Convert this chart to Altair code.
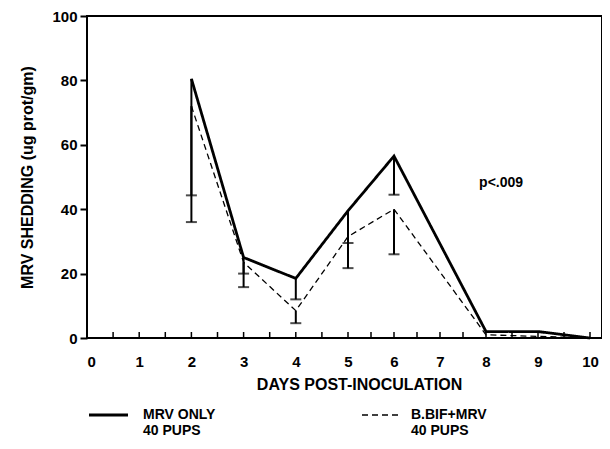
import altair as alt
import pandas as pd

# ---- data ----
days = [2, 3, 4, 5, 6, 8, 9, 10]
mrv_only = [80.5, 25, 18.5, 39.5, 56.5, 2, 2, 0]
bbif_mrv = [72, 23.5, 8.5, 31.5, 40, 1, 0.5, 0]

err_days = [2, 3, 4, 5, 6]
mrv_only_low = [44.3, 20, 12, 29.5, 44.5]
bbif_mrv_low = [36, 15.8, 4.6, 21.7, 26]

series_names = ["MRV ONLY", "B.BIF+MRV"]
legend_sub = ["40 PUPS", "40 PUPS"]

x_tick_marks = [0.5 * i for i in range(1, 21)]
x_labels = list(range(0, 11))
y_ticks = [0, 20, 40, 60, 80, 100]

p_text = "p<.009"
p_pos = [7.85, 48]
x_title = "DAYS POST-INOCULATION"
y_title = "MRV SHEDDING (ug prot/gm)"

FONT = "Liberation Sans"
W, H = 515, 322

# ---- tables ----
lines_df = pd.DataFrame(
    [{"day": d, "val": v, "series": series_names[0]} for d, v in zip(days, mrv_only)]
    + [{"day": d, "val": v, "series": series_names[1]} for d, v in zip(days, bbif_mrv)]
)
mean_lookup = {series_names[0]: dict(zip(days, mrv_only)), series_names[1]: dict(zip(days, bbif_mrv))}
err_df = pd.DataFrame(
    [{"day": d, "val": mean_lookup[series_names[0]][d], "low": lo, "series": series_names[0]}
     for d, lo in zip(err_days, mrv_only_low)]
    + [{"day": d, "val": mean_lookup[series_names[1]][d], "low": lo, "series": series_names[1]}
       for d, lo in zip(err_days, bbif_mrv_low)]
)
ticks_df = pd.DataFrame({"day": x_tick_marks})
p_df = pd.DataFrame({"day": [p_pos[0]], "val": [p_pos[1]], "t": [p_text]})
one = pd.DataFrame({"a": [0]})

xscale = alt.Scale(domain=[0, 5, 8, 10, 10.23], range=[0, 261, 399, 503, 515])
yscale = alt.Scale(domain=[0, 100], nice=False)

x_axis = alt.Axis(
    values=x_labels, ticks=False, tickSize=0, domain=False, grid=False,
    labelFont=FONT, labelFontSize=15, labelFontWeight="bold", labelColor="black",
    labelPadding=16,
    title=x_title, titleFont=FONT, titleFontSize=16, titleFontWeight="bold",
    titleColor="black", titleX=272, titleY=46, titleBaseline="middle", titleAlign="center",
)
y_axis = alt.Axis(
    values=y_ticks, tickSize=7, tickWidth=2, tickColor="black", domain=False, grid=False,
    labelFont=FONT, labelFontSize=15, labelFontWeight="bold", labelColor="black",
    labelPadding=3, labelBaseline="middle",
    title=y_title, titleFont=FONT, titleFontSize=16, titleFontWeight="bold",
    titleColor="black", titleX=-60, titleY=161, titleAngle=-90,
    titleBaseline="middle", titleAlign="center",
)

X = alt.X("day:Q", scale=xscale, axis=x_axis)
Xn = alt.X("day:Q", scale=xscale)
Y = alt.Y("val:Q", scale=yscale, axis=y_axis)
Yn = alt.Y("val:Q", scale=yscale)

lines = alt.Chart(lines_df).mark_line(color="black").encode(
    x=X, y=Y,
    strokeDash=alt.StrokeDash("series:N", scale=alt.Scale(domain=series_names, range=[[1, 0], [6, 4]]), legend=None),
    strokeWidth=alt.StrokeWidth("series:N", scale=alt.Scale(domain=series_names, range=[2.8, 1.3]), legend=None),
    detail="series:N",
)

err_rules = alt.Chart(err_df).mark_rule(color="black", strokeWidth=2).encode(
    x=Xn, y=Yn, y2="low:Q"
)
err_caps = alt.Chart(err_df).mark_tick(color="black", orient="horizontal", size=11, thickness=2).encode(
    x=Xn, y=alt.Y("low:Q", scale=yscale)
)

x_ticks_layer = alt.Chart(ticks_df).mark_rule(color="black", strokeWidth=1.5).encode(
    x=Xn, y=alt.value(H), y2=alt.value(H - 6)
)

p_layer = alt.Chart(p_df).mark_text(
    font=FONT, fontSize=14, fontWeight="bold", align="left", baseline="middle", color="black"
).encode(x=Xn, y=Yn, text="t:N")

# legend drawn below the plot
leg = []
leg_x = [(2, 41, 56), (275, 312, 324)]
dashes = [[1, 0], [6, 4]]
widths = [2.8, 1.3]
for i in range(2):
    x0, x1, tx = leg_x[i]
    leg.append(alt.Chart(one).mark_rule(color="black", strokeWidth=widths[i], strokeDash=dashes[i]).encode(
        x=alt.value(x0), x2=alt.value(x1), y=alt.value(399)))
    leg.append(alt.Chart(one).mark_text(font=FONT, fontSize=14, fontWeight="bold", align="left",
                                        baseline="middle", color="black", text=series_names[i]).encode(
        x=alt.value(tx), y=alt.value(399)))
    leg.append(alt.Chart(one).mark_text(font=FONT, fontSize=14, fontWeight="bold", align="left",
                                        baseline="middle", color="black", text=legend_sub[i]).encode(
        x=alt.value(tx), y=alt.value(415)))

chart = (
    alt.layer(lines, err_rules, err_caps, x_ticks_layer, p_layer, *leg)
    .properties(
        width=W, height=H,
        autosize=alt.AutoSizeParams(type="none"),
        padding={"left": 79, "top": 8, "right": 0, "bottom": 99},
    )
    .configure(background="white")
    .configure_view(stroke="black", strokeWidth=2)
)

chart.save("out.html", embed_options={"renderer": "svg", "actions": False})
